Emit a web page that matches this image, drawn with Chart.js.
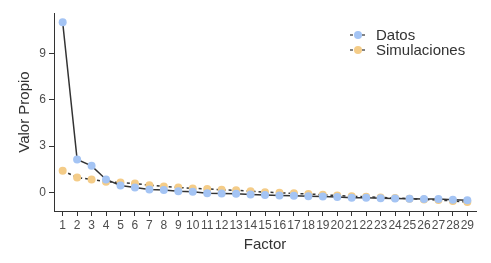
<!DOCTYPE html>
<html>
<head>
<meta charset="utf-8">
<script src="https://cdn.jsdelivr.net/npm/chart.js@4"></script>
<style>
  html, body { margin: 0; padding: 0; background: #fff; }
  #wrap { width: 491px; height: 263px; }
</style>
</head>
<body>
<div id="wrap"><canvas id="chart" width="491" height="263"></canvas></div>
<script>
const factores = [1, 2, 3, 4, 5, 6, 7, 8, 9, 10, 11, 12, 13, 14, 15, 16, 17, 18, 19, 20, 21, 22, 23, 24, 25, 26, 27, 28, 29];
const datos = [11.0, 2.13, 1.72, 0.84, 0.45, 0.32, 0.19, 0.15, 0.08, 0.04, -0.05, -0.07, -0.09, -0.13, -0.17, -0.20, -0.22, -0.24, -0.26, -0.30, -0.34, -0.35, -0.37, -0.39, -0.41, -0.42, -0.43, -0.47, -0.51];
const simulaciones = [1.40, 0.97, 0.84, 0.69, 0.64, 0.57, 0.47, 0.39, 0.32, 0.26, 0.23, 0.17, 0.14, 0.08, 0.02, -0.02, -0.06, -0.10, -0.15, -0.20, -0.25, -0.28, -0.32, -0.36, -0.40, -0.45, -0.49, -0.55, -0.62];
const yTicks = [0, 3, 6, 9];

const BLUE = '#a4c4f4';
const ORANGE = '#f4cc88';
const INK = '#333333';
const FONT = "'Liberation Sans', Arial, sans-serif";

const toPoints = values => factores.map((f, i) => ({ x: f, y: values[i] }));

// ggplot-like legend: short dashed line with a dot, then the label
const legendPlugin = {
  id: 'ggLegend',
  afterDraw(chart) {
    const { ctx, chartArea } = chart;
    const items = [
      { label: 'Datos', color: BLUE },
      { label: 'Simulaciones', color: ORANGE }
    ];
    const x0 = chartArea.left + 304;
    const y0 = chartArea.top + 22;
    ctx.save();
    items.forEach((it, i) => {
      const y = y0 + i * 15;
      ctx.strokeStyle = INK;
      ctx.lineWidth = 1.2;
      ctx.setLineDash([3, 3]);
      ctx.beginPath();
      ctx.moveTo(x0 - 8, y);
      ctx.lineTo(x0 + 8, y);
      ctx.stroke();
      ctx.setLineDash([]);
      ctx.fillStyle = it.color;
      ctx.beginPath();
      ctx.arc(x0, y, 4, 0, Math.PI * 2);
      ctx.fill();
      ctx.fillStyle = INK;
      ctx.font = `15px ${FONT}`;
      ctx.textBaseline = 'middle';
      ctx.fillText(it.label, x0 + 18, y + 1);
    });
    ctx.restore();
  }
};

new Chart(document.getElementById('chart'), {
  type: 'line',
  data: {
    datasets: [
      {
        label: 'Datos',
        data: toPoints(datos),
        borderColor: INK,
        borderWidth: 1.5,
        backgroundColor: BLUE,
        pointBackgroundColor: BLUE,
        pointBorderWidth: 0,
        pointRadius: 4,
        tension: 0
      },
      {
        label: 'Simulaciones',
        data: toPoints(simulaciones),
        borderColor: INK,
        borderWidth: 1.5,
        borderDash: [3, 3],
        backgroundColor: ORANGE,
        pointBackgroundColor: ORANGE,
        pointBorderWidth: 0,
        pointRadius: 4,
        tension: 0
      }
    ]
  },
  options: {
    responsive: false,
    animation: false,
    layout: { padding: { left: 12, top: 13, right: 15, bottom: 0 } },
    plugins: {
      legend: { display: false },
      tooltip: { enabled: false }
    },
    scales: {
      x: {
        type: 'linear',
        min: 0.4,
        max: 29.6,
        afterBuildTicks: scale => { scale.ticks = factores.map(v => ({ value: v })); },
        afterFit: scale => { scale.height = 52; },
        grid: { display: true, drawOnChartArea: false, drawTicks: true, tickLength: 5, color: INK, lineWidth: 1 },
        border: { display: true, color: INK, width: 1 },
        ticks: {
          autoSkip: false,
          maxRotation: 0,
          padding: 2,
          color: '#4d4d4d',
          font: { family: FONT, size: 12 },
          callback: v => String(v)
        },
        title: {
          display: true,
          text: 'Factor',
          color: INK,
          font: { family: FONT, size: 15 },
          padding: { top: 0, bottom: 9 }
        }
      },
      y: {
        type: 'linear',
        min: -1.2,
        max: 11.6,
        afterBuildTicks: scale => { scale.ticks = yTicks.map(v => ({ value: v })); },
        afterFit: scale => { scale.width = 42; },
        grid: { display: true, drawOnChartArea: false, drawTicks: true, tickLength: 5, color: INK, lineWidth: 1 },
        border: { display: true, color: INK, width: 1 },
        ticks: {
          padding: 3,
          color: '#4d4d4d',
          font: { family: FONT, size: 12 },
          callback: v => String(v)
        },
        title: {
          display: true,
          text: 'Valor Propio',
          color: INK,
          font: { family: FONT, size: 15 },
          padding: { bottom: 2 }
        }
      }
    }
  },
  plugins: [legendPlugin]
});
</script>
</body>
</html>
